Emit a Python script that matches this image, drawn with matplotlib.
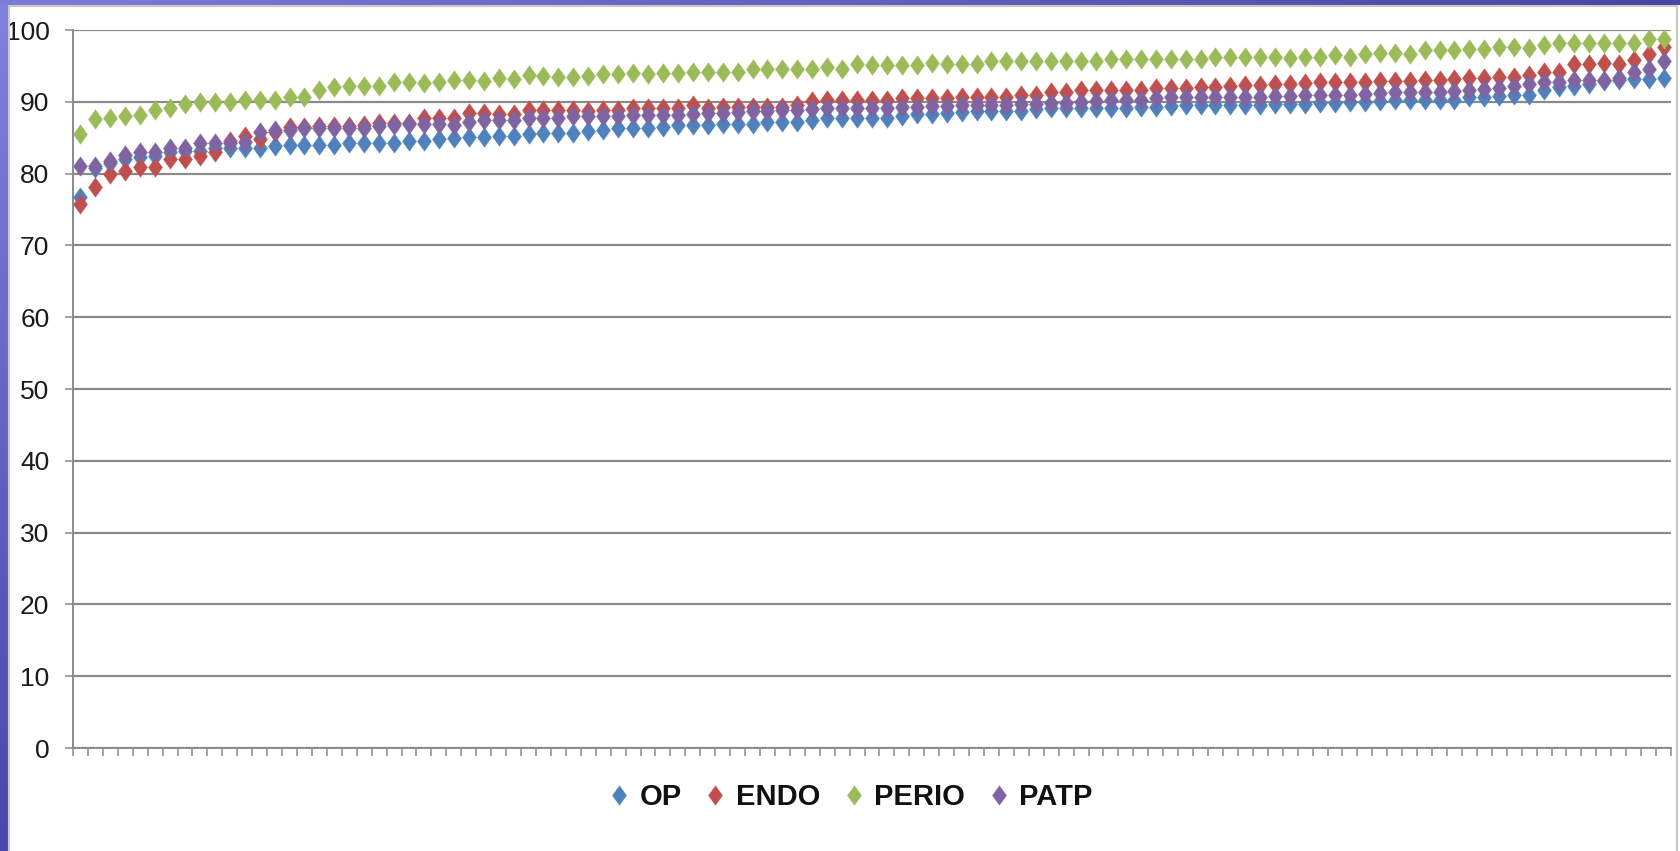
import numpy as np
import matplotlib
matplotlib.use("Agg")
import matplotlib.pyplot as plt
from matplotlib.path import Path
from matplotlib.lines import Line2D

# ---------------- data ----------------
series_names = ["OP", "ENDO", "PERIO", "PATP"]

op = [76.7, 80.8, 81.5, 82.0, 82.3, 82.5, 83.0, 83.1, 83.2, 83.5,
      83.5, 83.5, 83.6, 83.9, 84.0, 84.0, 84.0, 84.0, 84.2, 84.2,
      84.2, 84.3, 84.5, 84.6, 84.8, 84.9, 85.1, 85.1, 85.3, 85.3,
      85.5, 85.6, 85.6, 85.6, 85.9, 86.1, 86.3, 86.4, 86.4, 86.5,
      86.7, 86.7, 86.8, 86.9, 86.9, 86.9, 87.2, 87.2, 87.2, 87.4,
      87.7, 87.7, 87.7, 87.7, 87.8, 88.0, 88.3, 88.3, 88.4, 88.6,
      88.7, 88.7, 88.7, 88.7, 89.0, 89.1, 89.1, 89.2, 89.2, 89.2,
      89.2, 89.3, 89.3, 89.4, 89.5, 89.5, 89.5, 89.6, 89.6, 89.6,
      89.7, 89.7, 89.7, 89.9, 89.9, 90.0, 90.0, 90.1, 90.2, 90.2,
      90.2, 90.3, 90.3, 90.6, 90.6, 90.8, 90.9, 91.0, 91.7, 92.0,
      92.2, 92.5, 92.9, 93.0, 93.2, 93.2, 93.3]

endo = [75.8, 78.1, 80.0, 80.4, 80.9, 80.9, 82.1, 82.1, 82.5, 83.0,
        84.5, 85.3, 84.8, 85.8, 86.5, 86.5, 86.6, 86.6, 86.6, 86.8,
        87.0, 87.0, 87.1, 87.7, 87.7, 87.7, 88.5, 88.4, 88.3, 88.3,
        88.9, 88.9, 88.9, 88.8, 88.7, 88.8, 88.9, 89.2, 89.2, 89.2,
        89.2, 89.5, 89.2, 89.3, 89.3, 89.3, 89.3, 89.3, 89.5, 90.1,
        90.2, 90.2, 90.2, 90.2, 90.2, 90.5, 90.5, 90.5, 90.5, 90.7,
        90.7, 90.7, 90.7, 90.9, 90.9, 91.4, 91.4, 91.6, 91.6, 91.6,
        91.6, 91.6, 91.9, 91.9, 91.9, 92.1, 92.1, 92.2, 92.4, 92.4,
        92.5, 92.5, 92.6, 92.7, 92.7, 92.7, 92.8, 92.9, 92.9, 92.9,
        93.0, 93.0, 93.2, 93.3, 93.3, 93.4, 93.5, 93.8, 94.1, 94.2,
        95.2, 95.3, 95.4, 95.3, 95.8, 96.6, 97.6]

perio = [85.5, 87.6, 87.7, 88.0, 88.2, 88.9, 89.1, 89.7, 90.0, 90.0,
         90.0, 90.3, 90.3, 90.3, 90.6, 90.6, 91.6, 92.1, 92.2, 92.2,
         92.2, 92.7, 92.7, 92.6, 92.7, 93.1, 93.0, 92.9, 93.3, 93.2,
         93.8, 93.6, 93.5, 93.5, 93.6, 93.9, 93.9, 94.0, 93.9, 94.0,
         94.0, 94.1, 94.1, 94.2, 94.2, 94.6, 94.5, 94.5, 94.5, 94.5,
         94.8, 94.6, 95.2, 95.1, 95.1, 95.1, 95.1, 95.4, 95.3, 95.3,
         95.2, 95.7, 95.7, 95.7, 95.7, 95.7, 95.7, 95.7, 95.7, 96.0,
         95.9, 95.9, 95.9, 95.9, 95.9, 96.0, 96.3, 96.3, 96.2, 96.2,
         96.3, 96.1, 96.3, 96.3, 96.5, 96.3, 96.7, 96.8, 96.8, 96.6,
         97.2, 97.2, 97.2, 97.4, 97.3, 97.6, 97.6, 97.5, 97.9, 98.2,
         98.2, 98.2, 98.2, 98.2, 98.2, 98.7, 98.8]

patp = [81.0, 81.1, 81.8, 82.6, 83.0, 83.0, 83.5, 83.5, 84.2, 84.2,
        84.2, 84.4, 85.8, 86.1, 86.1, 86.3, 86.4, 86.4, 86.4, 86.4,
        86.6, 86.8, 86.9, 86.9, 86.9, 86.8, 87.2, 87.5, 87.5, 87.5,
        87.7, 87.7, 87.7, 88.0, 88.0, 88.0, 88.0, 88.1, 88.1, 88.2,
        88.2, 88.3, 88.4, 88.4, 88.6, 88.7, 88.7, 88.8, 88.9, 89.0,
        89.2, 89.1, 89.1, 89.2, 89.2, 89.3, 89.3, 89.4, 89.4, 89.5,
        89.5, 89.6, 89.6, 89.7, 89.7, 89.9, 89.9, 90.0, 90.1, 90.2,
        90.2, 90.3, 90.5, 90.6, 90.6, 90.6, 90.7, 90.7, 90.7, 90.7,
        90.8, 90.8, 90.9, 91.0, 91.0, 91.0, 91.1, 91.2, 91.3, 91.3,
        91.3, 91.4, 91.5, 91.7, 91.8, 91.9, 92.2, 92.5, 92.7, 92.8,
        93.0, 93.0, 93.1, 93.3, 94.1, 94.6, 95.7]

y_ticks = [0, 10, 20, 30, 40, 50, 60, 70, 80, 90, 100]

colors = ["#4F81BD", "#C0504D", "#9BBB59", "#8064A2"]

# ---------------- figure ----------------
W, H = 1680, 851
fig = plt.figure(figsize=(W / 100, H / 100), dpi=100, facecolor="white")

num_font = ["Liberation Sans Narrow", "Liberation Sans", "DejaVu Sans"]

def fx(px):
    return px / W

def fy(py):
    return 1 - py / H

# decoration: purple frame strips
ax_left = fig.add_axes([0, 0, fx(8), 1])
gl = np.linspace(0, 1, 256).reshape(-1, 1)
top_c = np.array([128, 128, 222]) / 255
bot_c = np.array([72, 72, 172]) / 255
img = top_c[None, None, :] * (1 - gl[:, :, None]) + bot_c[None, None, :] * gl[:, :, None]
ax_left.imshow(img, aspect="auto", extent=[0, 1, 0, 1])
ax_left.axis("off")

ax_top = fig.add_axes([0, fy(5), 1, 5 / H])
gh = np.linspace(0, 1, 256).reshape(1, -1)
lc = np.array([125, 125, 215]) / 255
rc = np.array([70, 70, 165]) / 255
img2 = lc[None, None, :] * (1 - gh[:, :, None]) + rc[None, None, :] * gh[:, :, None]
ax_top.imshow(img2, aspect="auto", extent=[0, 1, 0, 1])
ax_top.axis("off")

# chart area border
border_col = "#c8c8c8"
fig.add_artist(Line2D([fx(9), fx(9)], [0, fy(6)], color=border_col, lw=1.5))
fig.add_artist(Line2D([fx(9), fx(1677)], [fy(6), fy(6)], color=border_col, lw=1.5))
fig.add_artist(Line2D([fx(1677), fx(1677)], [0, fy(6)], color=border_col, lw=1.5))

# ---------------- main axes ----------------
ax_l, ax_r, ax_t, ax_b = 73, 1671, 30, 748
ax = fig.add_axes([fx(ax_l), fy(ax_b), fx(ax_r - ax_l), (ax_b - ax_t) / H])

n = len(op)
x = np.arange(n)

diamond = Path([(0, 1), (0.72, 0), (0, -1), (-0.72, 0), (0, 1)],
               [Path.MOVETO, Path.LINETO, Path.LINETO, Path.LINETO, Path.CLOSEPOLY])

for name, vals, c in zip(series_names, [op, endo, perio, patp], colors):
    ax.plot(x, vals, linestyle="none", marker=diamond, markersize=14,
            markerfacecolor=c, markeredgecolor=c, markeredgewidth=0.3,
            label=name, zorder=3, clip_on=False)

ax.set_xlim(-0.5, n - 0.5)
ax.set_ylim(0, 100)
ax.set_yticks(y_ticks)
ax.set_yticklabels([str(t) for t in y_ticks], family=num_font, fontsize=19,
                   color="#1a1a1a")
ax.yaxis.grid(True, color="#8a8a8a", lw=1.6, zorder=1)
ax.set_axisbelow(True)

ax.set_xticks(np.arange(-0.5, n, 1.0))
ax.set_xticklabels([])
ax.tick_params(axis="x", direction="out", length=6, width=1.1, color="#8a8a8a")
ax.tick_params(axis="y", direction="out", length=6, width=1.1, color="#8a8a8a",
               pad=11)

for s in ["top", "right"]:
    ax.spines[s].set_visible(False)
for s in ["left", "bottom"]:
    ax.spines[s].set_color("#8a8a8a")
    ax.spines[s].set_linewidth(1.4)

# ---------------- legend ----------------
handles = [Line2D([], [], linestyle="none", marker=diamond, markersize=14,
                  markerfacecolor=c, markeredgecolor=c, markeredgewidth=0.3)
           for c in colors]
leg = fig.legend(handles, series_names, loc="center",
                 bbox_to_anchor=(fx(850), fy(797)), ncol=4, frameon=False,
                 handlelength=0.8, handletextpad=0.3, columnspacing=0.75,
                 prop={"family": num_font, "weight": "bold", "size": 21})
for t in leg.get_texts():
    t.set_color("#111111")

fig.savefig("out.png", dpi=100, facecolor="white")
